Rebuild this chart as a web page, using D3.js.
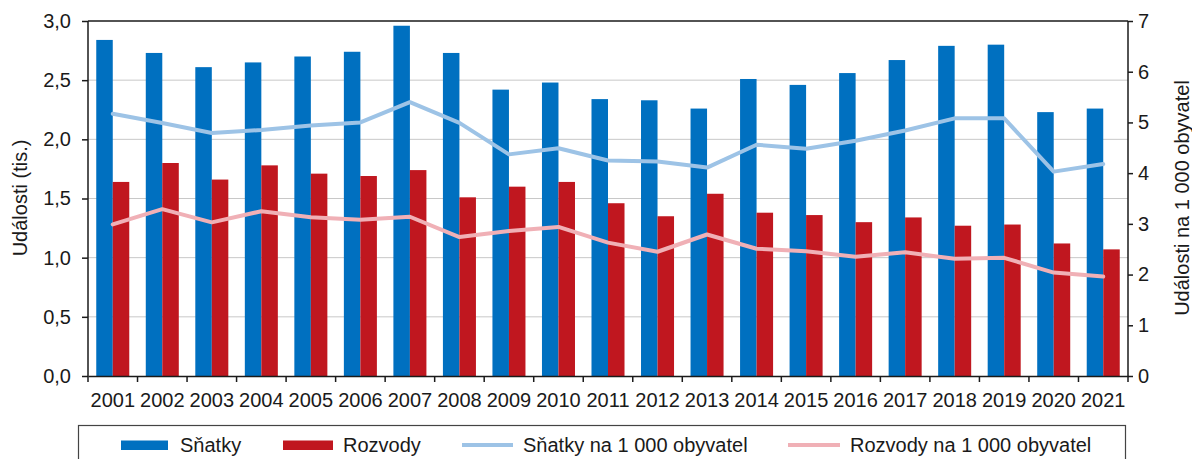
<!DOCTYPE html>
<html><head><meta charset="utf-8">
<script src="https://cdn.jsdelivr.net/npm/d3@7"></script>
<style>
html,body{margin:0;padding:0;background:#fff;}
svg text{font-family:"Liberation Sans",Arial,sans-serif;fill:#1a1a1a;}
</style></head>
<body><svg id="c" width="1192" height="459"></svg>
<script>
const years = ["2001","2002","2003","2004","2005","2006","2007","2008","2009","2010","2011","2012","2013","2014","2015","2016","2017","2018","2019","2020","2021"];
const snatky = [2.84,2.73,2.61,2.65,2.70,2.74,2.96,2.73,2.42,2.48,2.34,2.33,2.26,2.51,2.46,2.56,2.67,2.79,2.80,2.23,2.26];
const rozvody = [1.64,1.80,1.66,1.78,1.71,1.69,1.74,1.51,1.60,1.64,1.46,1.35,1.54,1.38,1.36,1.30,1.34,1.27,1.28,1.12,1.07];
const snatkyRate = [5.17,4.99,4.79,4.85,4.94,5.00,5.40,4.99,4.37,4.49,4.25,4.23,4.11,4.56,4.48,4.64,4.84,5.08,5.08,4.03,4.18];
const rozvodyRate = [2.99,3.29,3.03,3.25,3.13,3.08,3.14,2.74,2.86,2.94,2.63,2.45,2.79,2.51,2.46,2.35,2.44,2.31,2.33,2.04,1.96];
const leftTicks = [0,0.5,1,1.5,2,2.5,3];
const rightTicks = [0,1,2,3,4,5,6,7];
const seriesNames = ["Sňatky","Rozvody","Sňatky na 1 000 obyvatel","Rozvody na 1 000 obyvatel"];
const colors = {bar1:"#0070c0", bar2:"#c0171f", line1:"#9dc3e6", line2:"#f0b0b6"};
const FS = "20px";

const svg = d3.select("#c");
const L=88, R=1128, T=21, B=376;
const x = d3.scaleBand().domain(years).range([L,R]).padding(0);
const xs = d3.scaleBand().domain(["s","r"]).range([0,x.bandwidth()]).paddingInner(0).paddingOuter(0.5);
const yL = d3.scaleLinear().domain([0,3]).range([B,T]);
const yR = d3.scaleLinear().domain([0,7]).range([B,T]);

// gridlines
svg.append("g").selectAll("line").data(leftTicks.filter(d=>d>0&&d<3)).join("line")
  .attr("x1",L).attr("x2",R).attr("y1",d=>yL(d)).attr("y2",d=>yL(d))
  .attr("stroke","#c8c8c8").attr("stroke-width",1);

// bars
const g = svg.append("g");
g.selectAll("rect.s").data(years).join("rect").attr("class","s")
  .attr("x",d=>x(d)+xs("s")).attr("width",xs.bandwidth())
  .attr("y",(d,i)=>yL(snatky[i])).attr("height",(d,i)=>B-yL(snatky[i]))
  .attr("fill",colors.bar1);
g.selectAll("rect.r").data(years).join("rect").attr("class","r")
  .attr("x",d=>x(d)+xs("r")).attr("width",xs.bandwidth())
  .attr("y",(d,i)=>yL(rozvody[i])).attr("height",(d,i)=>B-yL(rozvody[i]))
  .attr("fill",colors.bar2);

// lines
const cx = d=>x(d)+x.bandwidth()/2;
const line1 = d3.line().x((d,i)=>cx(years[i])).y(d=>yR(d));
svg.append("path").datum(snatkyRate).attr("d",line1).attr("fill","none")
  .attr("stroke",colors.line1).attr("stroke-width",4).attr("stroke-linejoin","round").attr("stroke-linecap","round");
svg.append("path").datum(rozvodyRate).attr("d",line1).attr("fill","none")
  .attr("stroke",colors.line2).attr("stroke-width",4).attr("stroke-linejoin","round").attr("stroke-linecap","round");

// top border
svg.append("line").attr("x1",L).attr("x2",R).attr("y1",T).attr("y2",T).attr("stroke","#1a1a1a").attr("stroke-width",1.5);

// axes
const fmt = d=>d3.format(".1f")(d).replace(".",",");
const ax = svg.append("g").attr("transform",`translate(${L},0)`)
  .call(d3.axisLeft(yL).tickValues(leftTicks).tickFormat(fmt).tickSize(6).tickPadding(11));
const axR = svg.append("g").attr("transform",`translate(${R},0)`)
  .call(d3.axisRight(yR).tickValues(rightTicks).tickFormat(d3.format("d")).tickSize(5).tickPadding(5));
const axB = svg.append("g").attr("transform",`translate(0,${B})`)
  .call(d3.axisBottom(x).tickSize(0).tickPadding(17));
axB.selectAll(".tick line").remove();
const bTicks = years.map(d=>x(d)).concat([x.range()[1]]);
axB.append("g").selectAll("line").data(bTicks).join("line")
  .attr("x1",d=>d).attr("x2",d=>d).attr("y1",0).attr("y2",6).attr("stroke","#1a1a1a").attr("stroke-width",1.5);
[ax,axR,axB].forEach(a=>{
  a.selectAll("text").style("font-size",FS).style("font-family","'Liberation Sans',Arial,sans-serif").attr("fill","#1a1a1a");
  a.select(".domain").attr("stroke","#1a1a1a").attr("stroke-width",1.5);
  a.selectAll(".tick line").attr("stroke","#1a1a1a").attr("stroke-width",1.5);
});
axR.select(".domain").attr("d",`M0,${B}V${T}`);
ax.select(".domain").attr("d",`M0,${B}V${T}`);

// axis titles
svg.append("text").attr("transform",`translate(27,198) rotate(-90)`).attr("text-anchor","middle")
  .style("font-size",FS).text("Události (tis.)");
svg.append("text").attr("transform",`translate(1189,198) rotate(-90)`).attr("text-anchor","middle")
  .style("font-size",FS).text("Události na 1 000 obyvatel");

// legend
const lg = svg.append("g");
lg.append("rect").attr("x",78.5).attr("y",425.5).attr("width",1047).attr("height",50)
  .attr("fill","none").attr("stroke","#444").attr("stroke-width",1.2);
const items = [
  {type:"rect",c:colors.bar1,x0:121,x1:168,tx:180},
  {type:"rect",c:colors.bar2,x0:283,x1:333,tx:343},
  {type:"line",c:colors.line1,x0:462,x1:513,tx:523},
  {type:"line",c:colors.line2,x0:788,x1:840,tx:850}
];
items.forEach((it,i)=>{
  if(it.type==="rect"){
    lg.append("rect").attr("x",it.x0).attr("y",440.5).attr("width",it.x1-it.x0).attr("height",9.5).attr("fill",it.c);
  } else {
    lg.append("line").attr("x1",it.x0).attr("x2",it.x1).attr("y1",445).attr("y2",445)
      .attr("stroke",it.c).attr("stroke-width",4);
  }
  lg.append("text").attr("x",it.tx).attr("y",452).style("font-size",FS).text(seriesNames[i]);
});
</script></body></html>
